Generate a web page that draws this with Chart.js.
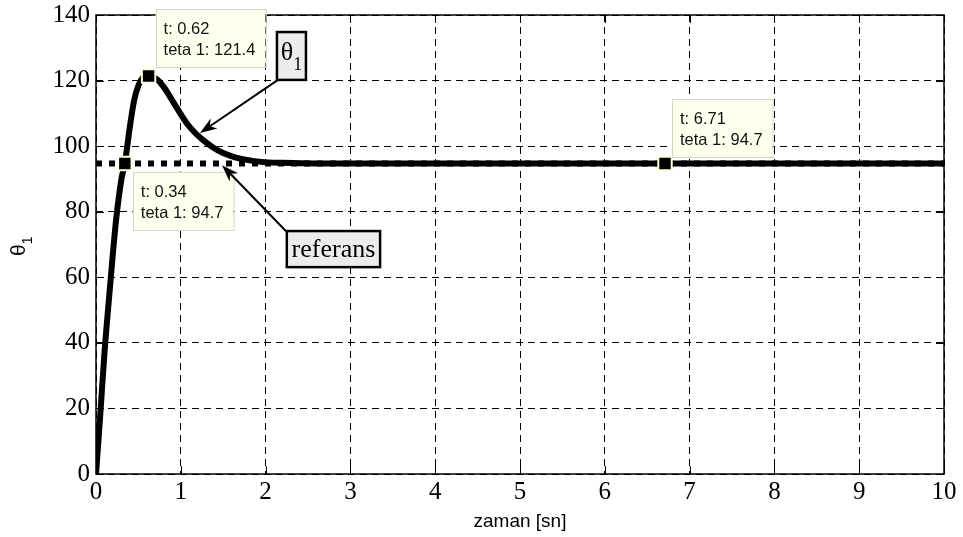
<!DOCTYPE html>
<html>
<head>
<meta charset="utf-8">
<script src="https://cdn.jsdelivr.net/npm/chart.js@4/dist/chart.umd.min.js"></script>
<style>
  html, body { margin: 0; padding: 0; background: #ffffff; }
  canvas { display: block; }
</style>
</head>
<body>
<canvas id="chart" width="963" height="537"></canvas>
<script>
// Step response of joint angle theta 1 (degrees) against time (s)
const timeSec = [0, 0.05, 0.10, 0.165, 0.235, 0.30, 0.34, 0.40, 0.45, 0.50, 0.55, 0.62,
                 0.72, 0.80, 0.87, 0.95, 1.07, 1.17, 1.26, 1.38, 1.50, 1.64, 1.78, 1.95,
                 2.2, 2.6, 3, 4, 5, 6, 7, 8, 9, 10];
const theta1 = [0, 18, 37, 57, 77, 90, 94.7, 106, 114, 118.5, 120.8, 121.4,
                120.4, 118, 115.2, 111.8, 107, 104, 101.9, 99.6, 97.9, 96.6, 95.8, 95.2,
                94.9, 94.7, 94.7, 94.7, 94.7, 94.7, 94.7, 94.7, 94.7, 94.7];

// Reference (set point) line
const refTimes = [0, 10];
const refValues = [94.7, 94.7];

// Data tips
const tipTimes = [0.62, 0.34, 6.71];
const tipValues = [121.4, 94.7, 94.7];

// Axis ticks
const xTicks = [0, 1, 2, 3, 4, 5, 6, 7, 8, 9, 10];
const yTicks = [0, 20, 40, 60, 80, 100, 120, 140];

const toXY = (xs, ys) => xs.map((x, i) => ({ x: x, y: ys[i] }));

// Datatip box placement relative to its marker (pixels)
const tipLayout = [
  { dx: 7, dy: -9, anchor: 'above' },
  { dx: 8, dy: 8, anchor: 'below' },
  { dx: 7, dy: -7, anchor: 'above' }
];

// Text-arrow annotations (data units)
const thetaNote = { x0: 2.134, x1: 2.476, y0: 134.8, y1: 120.2, tipX: 1.226, tipY: 104 };
const refNote = { x0: 2.25, x1: 3.35, y0: 74.1, y1: 63.1, tipX: 1.486, tipY: 94.2 };

function drawArrow(ctx, x1, y1, x2, y2) {
  const ang = Math.atan2(y2 - y1, x2 - x1);
  const headLen = 17, halfW = 6, notch = 5;
  ctx.save();
  ctx.strokeStyle = '#000';
  ctx.fillStyle = '#000';
  ctx.lineWidth = 2;
  ctx.beginPath();
  ctx.moveTo(x1, y1);
  ctx.lineTo(x2 - Math.cos(ang) * (headLen - notch), y2 - Math.sin(ang) * (headLen - notch));
  ctx.stroke();
  ctx.translate(x2, y2);
  ctx.rotate(ang);
  ctx.beginPath();
  ctx.moveTo(0, 0);
  ctx.lineTo(-headLen, -halfW);
  ctx.lineTo(-headLen + notch, 0);
  ctx.lineTo(-headLen, halfW);
  ctx.closePath();
  ctx.fill();
  ctx.restore();
}

const decorations = {
  id: 'decorations',
  afterDatasetsDraw(chart) {
    const { ctx, chartArea: a, scales: { x, y } } = chart;
    ctx.save();
    // inward tick marks on all four sides
    ctx.strokeStyle = '#000';
    ctx.lineWidth = 1;
    const tl = 8;
    xTicks.forEach(v => {
      const px = Math.round(x.getPixelForValue(v)) + 0.5;
      ctx.beginPath();
      ctx.moveTo(px, a.bottom); ctx.lineTo(px, a.bottom - tl);
      ctx.moveTo(px, a.top); ctx.lineTo(px, a.top + tl);
      ctx.stroke();
    });
    yTicks.forEach(v => {
      const py = Math.round(y.getPixelForValue(v)) + 0.5;
      ctx.beginPath();
      ctx.moveTo(a.left, py); ctx.lineTo(a.left + tl, py);
      ctx.moveTo(a.right, py); ctx.lineTo(a.right - tl, py);
      ctx.stroke();
    });
    // axes box
    ctx.lineWidth = 1.5;
    ctx.strokeRect(a.left, a.top, a.right - a.left, a.bottom - a.top);
    ctx.restore();
  },
  afterDraw(chart) {
    const { ctx, scales: { x, y } } = chart;
    ctx.save();

    // data tips
    ctx.font = '16.5px "Liberation Sans", Arial, sans-serif';
    tipTimes.forEach((t, i) => {
      const mx = x.getPixelForValue(t);
      const my = y.getPixelForValue(tipValues[i]);
      const l1 = 't: ' + t;
      const l2 = 'teta 1: ' + tipValues[i];
      const w = Math.max(ctx.measureText(l1).width, ctx.measureText(l2).width) + 18;
      const h = 58;
      const lay = tipLayout[i];
      const bx = mx + lay.dx;
      const by = lay.anchor === 'above' ? my + lay.dy - h : my + lay.dy;
      ctx.fillStyle = '#ffffee';
      ctx.fillRect(bx, by, w, h);
      ctx.strokeStyle = '#d6d6c8';
      ctx.lineWidth = 1;
      ctx.strokeRect(Math.round(bx) + 0.5, Math.round(by) + 0.5, w, h);
      ctx.fillStyle = '#111';
      ctx.textAlign = 'left';
      ctx.textBaseline = 'alphabetic';
      ctx.fillText(l1, bx + 8, by + 25);
      ctx.fillText(l2, bx + 8, by + 46);
    });

    // theta 1 text box with arrow
    {
      const L = x.getPixelForValue(thetaNote.x0), R = x.getPixelForValue(thetaNote.x1);
      const T = y.getPixelForValue(thetaNote.y0), B = y.getPixelForValue(thetaNote.y1);
      drawArrow(ctx, L + 1, B, x.getPixelForValue(thetaNote.tipX), y.getPixelForValue(thetaNote.tipY));
      ctx.fillStyle = '#ececec';
      ctx.fillRect(L, T, R - L, B - T);
      ctx.strokeStyle = '#000';
      ctx.lineWidth = 2.5;
      ctx.strokeRect(L, T, R - L, B - T);
      ctx.fillStyle = '#000';
      ctx.textBaseline = 'alphabetic';
      ctx.textAlign = 'left';
      ctx.font = '26px "Liberation Serif", "Times New Roman", serif';
      const th = 'θ';
      const tw = ctx.measureText(th).width;
      ctx.font = '18px "Liberation Serif", "Times New Roman", serif';
      const sw = ctx.measureText('1').width;
      const sx = (L + R) / 2 - (tw + sw) / 2;
      ctx.font = '26px "Liberation Serif", "Times New Roman", serif';
      ctx.fillText(th, sx, T + 28);
      ctx.font = '18px "Liberation Serif", "Times New Roman", serif';
      ctx.fillText('1', sx + tw, T + 38);
    }

    // referans text box with arrow
    {
      const L = x.getPixelForValue(refNote.x0), R = x.getPixelForValue(refNote.x1);
      const T = y.getPixelForValue(refNote.y0), B = y.getPixelForValue(refNote.y1);
      drawArrow(ctx, L, T + 1, x.getPixelForValue(refNote.tipX), y.getPixelForValue(refNote.tipY));
      ctx.fillStyle = '#ececec';
      ctx.fillRect(L, T, R - L, B - T);
      ctx.strokeStyle = '#000';
      ctx.lineWidth = 2.5;
      ctx.strokeRect(L, T, R - L, B - T);
      ctx.fillStyle = '#000';
      ctx.font = '26px "Liberation Serif", "Times New Roman", serif';
      ctx.textAlign = 'center';
      ctx.textBaseline = 'alphabetic';
      ctx.fillText('referans', (L + R) / 2, T + 26);
    }

    // y axis title: theta with subscript 1
    ctx.save();
    ctx.translate(25, 256);
    ctx.rotate(-Math.PI / 2);
    ctx.fillStyle = '#000';
    ctx.textAlign = 'left';
    ctx.textBaseline = 'alphabetic';
    ctx.font = '21px "Liberation Sans", Arial, sans-serif';
    ctx.fillText('θ', 0, 0);
    const thw = ctx.measureText('θ').width;
    ctx.font = '14px "Liberation Sans", Arial, sans-serif';
    ctx.fillText('1', thw, 7);
    ctx.restore();

    ctx.restore();
  }
};

new Chart(document.getElementById('chart'), {
  type: 'line',
  data: {
    datasets: [
      {
        label: 'data tips',
        data: toXY(tipTimes, tipValues),
        showLine: false,
        pointStyle: 'rect',
        pointRadius: 9.5,
        pointBackgroundColor: '#000',
        pointBorderColor: '#ffffdd',
        pointBorderWidth: 2,
        order: 0
      },
      {
        label: 'teta 1',
        data: toXY(timeSec, theta1),
        borderColor: '#000',
        borderWidth: 6,
        pointRadius: 0,
        cubicInterpolationMode: 'monotone',
        borderJoinStyle: 'round',
        order: 1
      },
      {
        label: 'referans',
        data: toXY(refTimes, refValues),
        borderColor: '#000',
        borderWidth: 6,
        borderDash: [6, 7],
        borderCapStyle: 'butt',
        pointRadius: 0,
        order: 2
      }
    ]
  },
  options: {
    responsive: false,
    animation: false,
    events: [],
    layout: { padding: { left: 0, right: 19, top: 15, bottom: 0 } },
    plugins: { legend: { display: false }, tooltip: { enabled: false } },
    scales: {
      x: {
        type: 'linear',
        min: 0,
        max: 10,
        afterFit: s => { s.height = 63; s.paddingLeft = 0; s.paddingRight = 0; },
        afterBuildTicks: s => { s.ticks = xTicks.map(v => ({ value: v })); },
        ticks: {
          color: '#000',
          padding: 6,
          maxRotation: 0,
          font: { family: '"Liberation Serif", "Times New Roman", serif', size: 25, lineHeight: 1 }
        },
        grid: { color: '#000', lineWidth: 1, drawTicks: false },
        border: { display: false, dash: [7, 5] },
        title: {
          display: true,
          text: 'zaman [sn]',
          color: '#000',
          padding: { top: 0, bottom: 4 },
          font: { family: '"Liberation Sans", Arial, sans-serif', size: 19 }
        }
      },
      y: {
        type: 'linear',
        min: 0,
        max: 140,
        afterFit: s => { s.width = 96; s.paddingTop = 0; s.paddingBottom = 0; },
        afterBuildTicks: s => { s.ticks = yTicks.map(v => ({ value: v })); },
        ticks: {
          color: '#000',
          padding: 6,
          font: { family: '"Liberation Serif", "Times New Roman", serif', size: 25, lineHeight: 1 }
        },
        grid: { color: '#000', lineWidth: 1, drawTicks: false },
        border: { display: false, dash: [7, 5] }
      }
    }
  },
  plugins: [decorations]
});
</script>
</body>
</html>
